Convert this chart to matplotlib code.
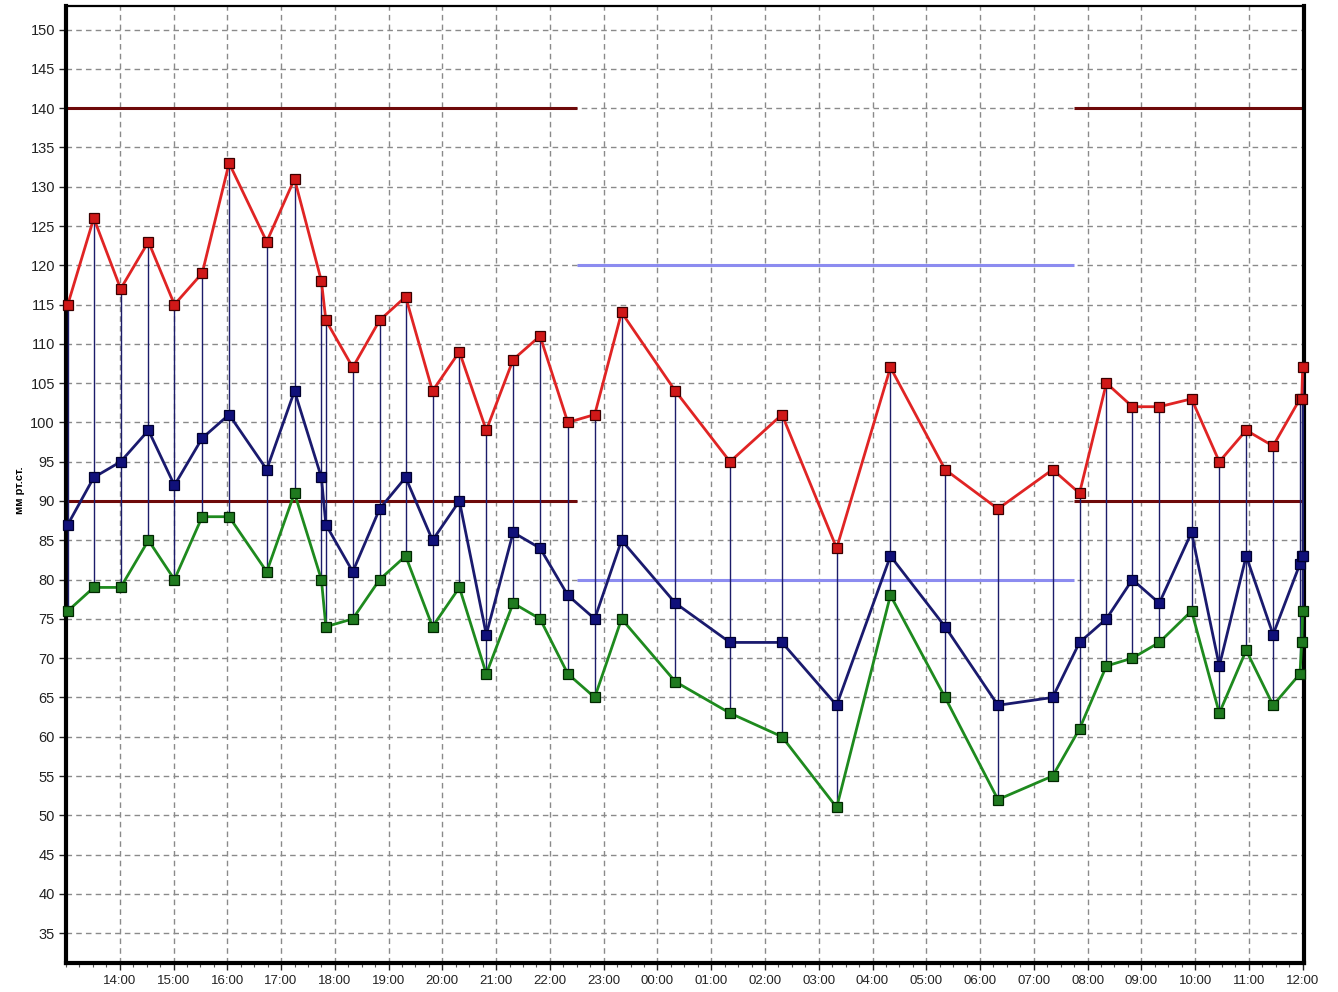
import matplotlib
matplotlib.use("Agg")
import matplotlib.pyplot as plt
from matplotlib.ticker import MultipleLocator, FuncFormatter

plt.rcParams['font.family'] = ['Liberation Sans', 'DejaVu Sans']

# Measurement times (HH:MM, monitoring starts at 13:00 and runs past midnight)
times = ["13:02", "13:31", "14:01", "14:32", "15:01", "15:32", "16:02", "16:44",
         "17:15", "17:45", "17:50", "18:20", "18:50", "19:19", "19:49", "20:19",
         "20:49", "21:19", "21:49", "22:20", "22:50", "23:20", "00:20", "01:21",
         "02:19", "03:20", "04:20", "05:21", "06:20", "07:21", "07:51", "08:21",
         "08:50", "09:20", "09:56", "10:27", "10:57", "11:27", "11:57", "11:59",
         "12:00"]

systolic = [115, 126, 117, 123, 115, 119, 133, 123, 131, 118, 113, 107, 113, 116,
            104, 109, 99, 108, 111, 100, 101, 114, 104, 95, 101, 84, 107, 94, 89,
            94, 91, 105, 102, 102, 103, 95, 99, 97, 103, 103, 107]

mean_bp = [87, 93, 95, 99, 92, 98, 101, 94, 104, 93, 87, 81, 89, 93, 85, 90, 73,
           86, 84, 78, 75, 85, 77, 72, 72, 64, 83, 74, 64, 65, 72, 75, 80, 77, 86,
           69, 83, 73, 82, 83, 83]

diastolic = [76, 79, 79, 85, 80, 88, 88, 81, 91, 80, 74, 75, 80, 83, 74, 79, 68,
             77, 75, 68, 65, 75, 67, 63, 60, 51, 78, 65, 52, 55, 61, 69, 70, 72,
             76, 63, 71, 64, 68, 72, 76]

# Reference limits: day (systolic / diastolic) and night (systolic / diastolic)
day_limits = [140, 90]
night_limits = [120, 80]
night_start = "22:30"
night_end = "07:45"

start_hour = 13.0


def to_hours(t):
    h, m = map(int, t.split(":"))
    v = h + m / 60.0
    if v < start_hour:
        v += 24
    return v


x = [to_hours(t) for t in times]
t_night0 = to_hours(night_start)
t_night1 = to_hours(night_end)
x_end = 36.025

fig = plt.figure(figsize=(13.38, 9.92), dpi=100)
ax = fig.add_axes([66 / 1338, 1 - 963 / 992, (1304 - 66) / 1338, (963 - 6) / 992])

ax.set_xlim(start_hour, x_end)
ax.set_ylim(31.2, 153.0)

# grid
ax.set_axisbelow(True)
ax.grid(True, which="major", color="#8a8a8a", linestyle=(0, (4, 3)), linewidth=1.0)

# limit lines
for v in day_limits:
    ax.plot([start_hour, t_night0], [v, v], color="#6e0a0a", lw=2.2, zorder=2,
            solid_capstyle="butt")
    ax.plot([t_night1, x_end], [v, v], color="#6e0a0a", lw=2.2, zorder=2,
            solid_capstyle="butt")
for v in night_limits:
    ax.plot([t_night0, t_night1], [v, v], color="#8c8cf0", lw=2.2, zorder=2,
            solid_capstyle="butt")

# systolic-to-diastolic stems
ax.vlines(x, diastolic, systolic, color="#1c1c6a", lw=1.0, zorder=3)

# series
ax.plot(x, systolic, color="#e02424", lw=2.0, marker="s", ms=6.5,
        mfc="#d01818", mec="#3a0000", mew=0.9, zorder=5, clip_on=False)
ax.plot(x, mean_bp, color="#1a1a6e", lw=2.0, marker="s", ms=6.5,
        mfc="#10107a", mec="#000030", mew=0.9, zorder=5, clip_on=False)
ax.plot(x, diastolic, color="#1e8a1e", lw=2.0, marker="s", ms=6.5,
        mfc="#1f7a1f", mec="#002800", mew=0.9, zorder=5, clip_on=False)

# axes styling
ax.yaxis.set_major_locator(MultipleLocator(5))
ax.set_yticks(range(35, 151, 5))
ax.set_xticks([h for h in range(14, 37)])
ax.xaxis.set_minor_locator(MultipleLocator(0.25))
ax.xaxis.set_major_formatter(FuncFormatter(lambda v, p: "%02d:00" % (int(round(v)) % 24)))

ax.tick_params(axis="y", which="major", length=5, width=1, direction="out",
               labelsize=10.5, colors="#222222", pad=3)
ax.tick_params(axis="x", which="major", length=5, width=1, direction="out",
               labelsize=9.5, colors="#222222", pad=4)
ax.tick_params(axis="x", which="minor", length=3, width=0.8, direction="out",
               colors="#555555")

for side, w in (("left", 3.0), ("bottom", 3.0), ("right", 3.0), ("top", 1.6)):
    ax.spines[side].set_linewidth(w)
    ax.spines[side].set_color("black")

fig.text(20 / 1338, 1 - 490 / 992, "мм рт.ст.", rotation=90, fontsize=8,
         fontweight="bold", ha="center", va="center")

fig.savefig("out.png", dpi=100)
